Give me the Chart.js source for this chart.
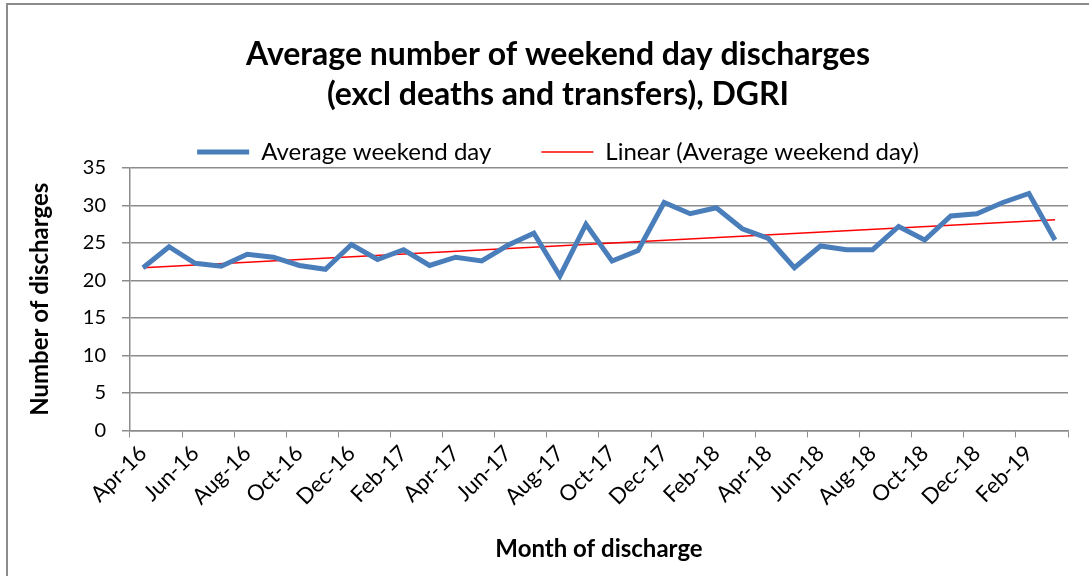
<!DOCTYPE html>
<html>
<head>
<meta charset="utf-8">
<script src="https://cdn.jsdelivr.net/npm/chart.js@4/dist/chart.umd.min.js"></script>
<style>
  html, body { margin: 0; padding: 0; background: #fff; }
  #wrap { position: relative; width: 1089px; height: 576px; overflow: hidden; }
  #frame { position: absolute; left: 6px; top: 3px; width: 1200px; height: 700px;
           border-left: 2px solid #8c8c8c; border-top: 2px solid #8c8c8c; }
  #chart { position: absolute; left: 0; top: 0; }
</style>
</head>
<body>
<div id="wrap"><div id="frame"></div><canvas id="chart" width="1089" height="576"></canvas></div>
<script>
const months = [
  "Apr-16", "May-16", "Jun-16", "Jul-16", "Aug-16", "Sep-16", "Oct-16", "Nov-16", "Dec-16",
  "Jan-17", "Feb-17", "Mar-17", "Apr-17", "May-17", "Jun-17", "Jul-17", "Aug-17", "Sep-17",
  "Oct-17", "Nov-17", "Dec-17", "Jan-18", "Feb-18", "Mar-18", "Apr-18", "May-18", "Jun-18",
  "Jul-18", "Aug-18", "Sep-18", "Oct-18", "Nov-18", "Dec-18", "Jan-19", "Feb-19", "Mar-19"
];

const weekendAvg = [
  21.7, 24.5, 22.3, 21.9, 23.5, 23.1, 22.0, 21.5, 24.8,
  22.8, 24.1, 22.0, 23.1, 22.6, 24.7, 26.3, 20.6, 27.5,
  22.6, 24.0, 30.4, 28.9, 29.7, 26.9, 25.6, 21.7, 24.6,
  24.1, 24.1, 27.2, 25.4, 28.6, 28.9, 30.4, 31.6, 25.4
];

// start and end of the linear trend line
const trendEnds = [21.7, 28.1];

const yTicks = [0, 5, 10, 15, 20, 25, 30, 35];

const font = "Lato, 'Open Sans', sans-serif";
const gray = '#8c8c8c';

// trend line only has its two end points, the line spans the gap
const trendData = months.map((m, i) => i === 0 ? trendEnds[0] : (i === months.length - 1 ? trendEnds[1] : null));

// legend box is kept short so the plot starts right under it,
// widen its clip area again before drawing so the text is not cut
const legendClipFix = {
  id: 'legendClipFix',
  beforeDraw(chart) {
    if (chart.legend) chart.legend.bottom = chart.legend.top + 120;
  }
};

new Chart(document.getElementById('chart').getContext('2d'), {
  type: 'line',
  data: {
    labels: months,
    datasets: [
      {
        label: 'Average weekend day',
        data: weekendAvg,
        borderColor: '#4a7ebb',
        backgroundColor: '#4a7ebb',
        borderWidth: 5,
        pointRadius: 0,
        tension: 0
      },
      {
        label: 'Linear (Average weekend day)',
        data: trendData,
        spanGaps: true,
        borderColor: '#ff0000',
        backgroundColor: '#ff0000',
        borderWidth: 1.5,
        pointRadius: 0,
        tension: 0
      }
    ]
  },
  plugins: [legendClipFix],
  options: {
    responsive: false,
    animation: false,
    layout: { padding: { left: 48, right: 21, top: 35, bottom: 12 } },
    plugins: {
      title: {
        display: true,
        text: ['Average number of weekend day discharges', '(excl deaths and transfers), DGRI'],
        color: '#000',
        font: { family: font, size: 32, weight: 'bold', lineHeight: 1.25 },
        padding: { top: 0, bottom: -25 }
      },
      legend: {
        maxHeight: 78,
        labels: {
          color: '#000',
          font: { family: font, size: 24 },
          usePointStyle: true,
          pointStyle: 'line',
          pointStyleWidth: 52,
          padding: 50
        }
      },
      tooltip: { enabled: false }
    },
    scales: {
      x: {
        offset: true,
        grid: {
          offset: true,
          drawOnChartArea: false,
          tickLength: 7,
          tickColor: ctx => (ctx.index === undefined || ctx.index % 2 === 0) ? gray : 'rgba(0,0,0,0)'
        },
        border: { color: gray, width: 1.5 },
        ticks: {
          autoSkip: false,
          minRotation: 45,
          maxRotation: 45,
          padding: 3,
          color: '#000',
          font: { family: font, size: 22 },
          callback: function (value, index) {
            return index % 2 === 0 ? months[index] : '';
          }
        },
        title: {
          display: true,
          text: 'Month of discharge',
          color: '#000',
          font: { family: font, size: 24, weight: 'bold' },
          padding: { top: 22, bottom: 0 }
        }
      },
      y: {
        min: yTicks[0],
        max: yTicks[yTicks.length - 1],
        afterBuildTicks: axis => { axis.ticks = yTicks.map(v => ({ value: v })); },
        grid: { color: gray, lineWidth: 1.5, tickLength: 8 },
        border: { color: gray, width: 1.5 },
        ticks: {
          color: '#000',
          font: { family: font, size: 20 },
          padding: 16
        },
        title: {
          display: true,
          text: 'Number of discharges',
          color: '#000',
          font: { family: font, size: 24, weight: 'bold' },
          padding: { top: -22, bottom: 12 }
        }
      }
    }
  }
});
</script>
</body>
</html>
